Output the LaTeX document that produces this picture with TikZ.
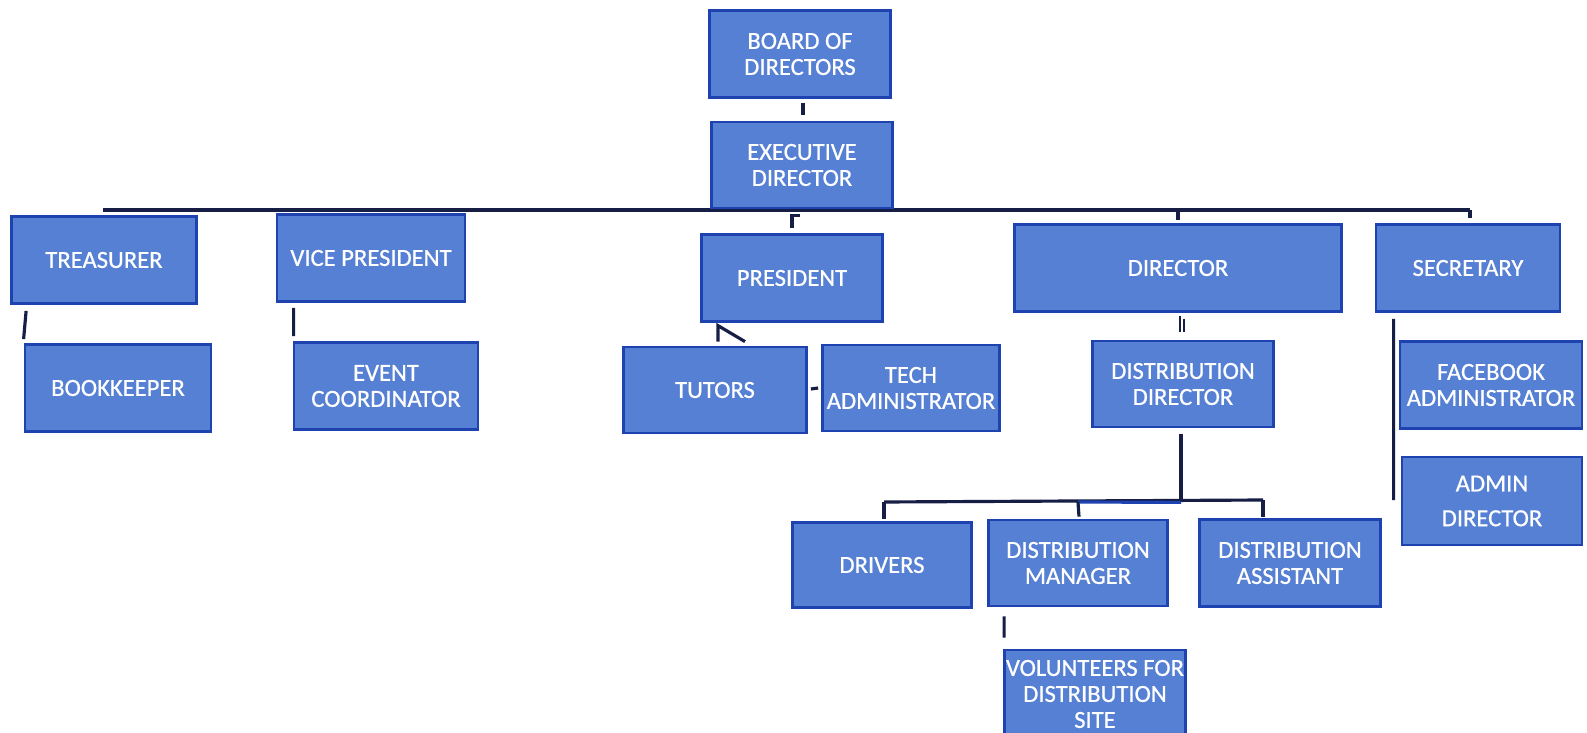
\documentclass[tikz,border=0pt]{standalone}
\usepackage{fontspec}
\setmainfont{Carlito}
\newfontfamily\boxfont{Carlito}[FakeBold=0.7]
\usepackage{xcolor}
\usepackage{tikz}
\usetikzlibrary{calc}

\definecolor{boxfill}{RGB}{86,128,212}
\definecolor{boxedge}{RGB}{30,66,176}
\definecolor{linkcol}{RGB}{22,30,70}

\begin{document}
\begin{tikzpicture}[x=0.02cm, y=-0.02cm,
  box/.style={draw=boxedge, line width=1.6pt, fill=boxfill, text=white,
    minimum height=1.74cm, inner sep=0pt, align=center,
    font=\boxfont\fontsize{14}{14.8}\selectfont},
  link/.style={draw=linkcol, line width=1.8pt}]
\useasboundingbox (0,0) rectangle (1587,733);
\fill[white] (0,0) rectangle (1587,733);
% top level bus
\coordinate (busL) at (103,210);
\coordinate (busR) at (1470,210);
\draw[link] (busL) -- (busR);
% boxes
\node[box, minimum width=3.62cm] (board) at (800,54) {BOARD OF\\DIRECTORS};
\node[box, minimum width=3.62cm, minimum height=1.72cm] (exec) at (802,165) {EXECUTIVE\\DIRECTOR};
\node[box, minimum width=3.70cm] (treas) at (104,260) {TREASURER};
\node[box, minimum width=3.76cm] (vp) at (371,258) {VICE PRESIDENT};
\node[box, minimum width=3.62cm] (pres) at (792,278) {PRESIDENT};
\node[box, minimum width=6.54cm] (director) at (1178,268) {DIRECTOR};
\node[box, minimum width=3.68cm] (secretary) at (1468,268) {SECRETARY};
\node[box, minimum width=3.72cm] (bookkeeper) at (118,388) {BOOKKEEPER};
\node[box, minimum width=3.68cm] (event) at (386,386) {EVENT\\COORDINATOR};
\node[box, minimum width=3.66cm, minimum height=1.72cm] (tutors) at (715,390) {TUTORS};
\node[box, minimum width=3.54cm, minimum height=1.72cm] (tech) at (911,388) {TECH\\ADMINISTRATOR};
\node[box, minimum width=3.62cm, minimum height=1.72cm] (distdir) at (1183,384) {DISTRIBUTION\\DIRECTOR};
\node[box, minimum width=3.64cm] (facebook) at (1491,385) {FACEBOOK\\ADMINISTRATOR};
\node[box, minimum width=3.60cm, minimum height=1.76cm] (admin) at (1492,501) {ADMIN\\[5pt]DIRECTOR};
\node[box, minimum width=3.58cm, minimum height=1.70cm] (drivers) at (882,565) {DRIVERS};
\node[box, minimum width=3.58cm, minimum height=1.72cm] (distman) at (1078,563) {DISTRIBUTION\\MANAGER};
\node[box, minimum width=3.62cm, minimum height=1.74cm] (distasst) at (1290,563) {DISTRIBUTION\\ASSISTANT};
\node[box, minimum width=3.62cm, minimum height=1.76cm] (volunteers) at (1095,694) {VOLUNTEERS FOR\\DISTRIBUTION\\SITE};
% short ticks under the top boxes
\draw[link] ($(board.south)+(3,4)$) -- ($(exec.north)+(1,-6)$);
\draw[link] ($(pres.north)+(8,-18)$) -| ($(pres.north)+(0,-5)$);
\draw[link] (director.north |- busL) -- ($(director.north)+(0,-3)$);
\draw[link] (busR) -- ($(secretary.north)+(2,-5)$);
% left branches
\draw[link] ($(treas.south west)+(16,6)$) -- ($(bookkeeper.north west)+(0,-4)$);
\draw[link] ($(vp.south west)+(18,5)$) -- ($(event.north west)+(1,-5)$);
% president's branch
\draw[link] ($(tutors.north)+(30,-4)$) -- ($(tutors.north)+(3,-20)$) -- ($(tutors.north)+(3,-4)$);
\draw[link] ($(tutors.east)+(3,-1)$) -- ($(tech.west)+(-3,0)$);
% director's branch
\draw[link, line width=1.1pt] ($(distdir.north)+(-3,-24)$) -- ($(distdir.north)+(-3,-8)$);
\draw[link, line width=1.1pt] ($(distdir.north)+(1,-21)$) -- ($(distdir.north)+(1,-8)$);
\coordinate (dbusL) at (884,502);
\coordinate (dbusR) at (1263,500);
\draw[link] ($(distdir.south)+(-2,6)$) -- ($(distdir.south)+(-2,74)$);
\draw[link] (dbusL) -- (dbusR);
\draw[link, draw=boxedge] (distman.north |- dbusL) -- ($(distdir.south)+(-2,74)$);
\draw[link] (dbusL) -- ($(dbusL |- drivers.north)+(0,-2)$);
\draw[link] (distman.north |- dbusL) -- ($(distman.north)+(1,-2)$);
\draw[link] (dbusR) -- ($(dbusR |- distasst.north)+(0,-1)$);
\draw[link] ($(distman.south west)+(17,9)$) -- ($(volunteers.north west)+(1,-11)$);
% secretary's branch
\draw[link] ($(secretary.south west)+(19,6)$) -- ($(admin.west)+(-7,-1)$);
\end{tikzpicture}
\end{document}
